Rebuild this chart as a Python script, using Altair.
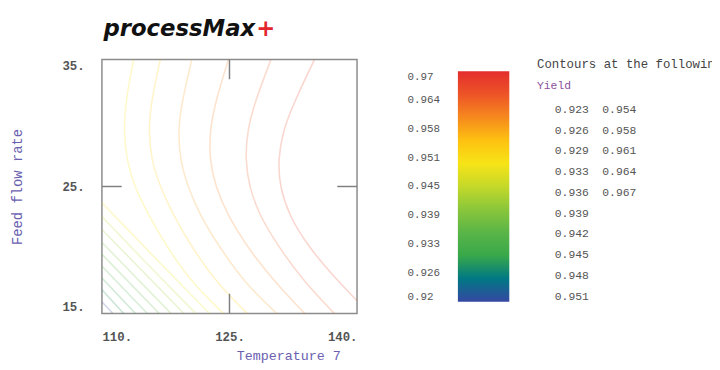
import altair as alt
import pandas as pd

# ---------------- data ----------------
# contour levels listed at the right
levels = [0.923, 0.926, 0.929, 0.933, 0.936, 0.939, 0.942, 0.945, 0.948, 0.951,
          0.954, 0.958, 0.961, 0.964, 0.967]

# contour polylines (Temperature, Feed flow rate)
c967_x = [135.00, 132.67, 131.28, 130.70, 130.93, 131.98, 134.07, 136.98, 140.0]
c967_y = [35.0, 31.73, 29.40, 27.06, 24.96, 22.78, 20.45, 18.11, 16.01]
c964_x = [129.88, 128.02, 127.09, 126.86, 127.33, 128.49, 130.58, 133.49, 137.33]
c964_y = [35.0, 31.73, 29.40, 27.06, 24.96, 22.78, 20.45, 17.72, 15.0]
c961_x = [124.88, 123.37, 122.67, 122.67, 123.37, 124.77, 126.86, 130.00, 133.84]
c961_y = [35.0, 31.73, 29.40, 27.06, 24.96, 22.78, 20.45, 17.72, 15.0]
c958_x = [120.58, 119.42, 118.95, 119.19, 120.12, 121.51, 123.60, 126.86, 130.58]
c958_y = [35.0, 31.73, 29.40, 27.06, 24.96, 22.78, 20.45, 17.33, 15.0]
c954_x = [116.86, 115.81, 115.47, 115.81, 116.86, 118.37, 120.70, 123.60, 127.09]
c954_y = [35.0, 31.73, 29.40, 27.06, 24.96, 22.78, 20.06, 17.33, 15.0]
c951_x = [113.72, 112.79, 112.56, 112.91, 113.84, 115.47, 117.79, 120.70, 124.30]
c951_y = [35.0, 31.73, 29.40, 27.06, 24.96, 22.78, 20.06, 17.33, 15.0]
c948_x = [110.0, 115.70, 122.67]
c948_y = [23.72, 19.75, 15.0]
c945_x = [110.0, 115.00, 121.05]
c945_y = [22.63, 19.12, 15.0]
c942_x = [110.0, 114.42, 119.65]
c942_y = [21.61, 18.58, 15.0]
c939_x = [110.0, 113.72, 118.14]
c939_y = [20.60, 18.04, 15.0]
c936_x = [110.0, 113.14, 116.74]
c936_y = [19.67, 17.49, 15.0]
c933_x = [110.0, 112.44, 115.35]
c933_y = [18.74, 17.02, 15.0]
c929_x = [110.0, 113.95]
c929_y = [17.80, 15.0]
c926_x = [110.0, 112.56]
c926_y = [16.87, 15.0]
c923_x = [110.0, 111.28]
c923_y = [15.93, 15.0]

curves = [
    (0.967, c967_x, c967_y), (0.964, c964_x, c964_y), (0.961, c961_x, c961_y),
    (0.958, c958_x, c958_y), (0.954, c954_x, c954_y), (0.951, c951_x, c951_y),
    (0.948, c948_x, c948_y), (0.945, c945_x, c945_y), (0.942, c942_x, c942_y),
    (0.939, c939_x, c939_y), (0.936, c936_x, c936_y), (0.933, c933_x, c933_y),
    (0.929, c929_x, c929_y), (0.926, c926_x, c926_y), (0.923, c923_x, c923_y),
]

x_ticks = [110, 125, 140]
y_ticks = [15, 25, 35]
inner_x_ticks = [125]
inner_y_ticks = [25]

colorbar_ticks = [0.92, 0.92625, 0.9325, 0.93875, 0.945, 0.95125, 0.9575, 0.96375, 0.97]
color_domain = [0.92, 0.9238, 0.9258, 0.93, 0.936, 0.942, 0.9485, 0.952, 0.958, 0.964, 0.97]
color_range = ["#3547a3", "#2f4fa0", "#18844a", "#38a84a", "#5fb846", "#a0cd36",
               "#f2e41a", "#fde412", "#f79e1e", "#ef5b26", "#e42d2d"]

title_main = "processMax"
title_plus = "+"
legend_header = "Contours at the following levels"
legend_var = "Yield"

# ---------------- build tables ----------------
rows = []
for lev, xs, ys in curves:
    for i, (a, b) in enumerate(zip(xs, ys)):
        rows.append({"level": lev, "temp": a, "feed": b, "ord": i})
contours = pd.DataFrame(rows)

lev_table = pd.DataFrame({
    "label": [f"{v:.3f}" for v in levels],
    "col": [i // 10 for i in range(len(levels))],
    "row": [i % 10 for i in range(len(levels))],
})

mono = "Liberation Mono"
W, H = 258, 257

xscale = alt.Scale(domain=[110, 140], nice=False, zero=False)
yscale = alt.Scale(domain=[15, 35], nice=False, zero=False)

fmt = "format(datum.value + 0.00001, '.3~f')"
lines = alt.Chart(contours).mark_line(
    interpolate="basis", strokeWidth=1.6, strokeOpacity=0.22, clip=True
).encode(
    x=alt.X("temp:Q", scale=xscale, axis=alt.Axis(
        values=x_ticks, labelExpr="datum.value + '.'", ticks=False, domain=False,
        grid=False, labelFlush=True, labelPadding=17, labelFont=mono,
        labelFontSize=12.5, labelFontWeight="bold", labelColor="#555555",
        title="Temperature 7", titleFont=mono, titleFontSize=13.5,
        titleFontWeight="normal", titleColor="#6a60b0", titleX=241, titleY=46,
        titleAlign="right", titleBaseline="alphabetic")),
    y=alt.Y("feed:Q", scale=yscale, axis=alt.Axis(
        values=y_ticks, labelExpr="datum.value + '.'", ticks=False, domain=False,
        grid=False, labelFlush=True, labelPadding=18, labelFont=mono,
        labelFontSize=12.5, labelFontWeight="bold", labelColor="#555555",
        title="Feed flow rate", titleFont=mono, titleFontSize=14,
        titleFontWeight="normal", titleColor="#6a60b0", titleX=-85, titleY=128.5,
        titleAngle=270, titleAlign="center", titleBaseline="middle")),
    stroke=alt.Stroke("level:Q", scale=alt.Scale(domain=color_domain, range=color_range),
                      legend=alt.Legend(
                          orient="none", legendX=360, legendY=12, direction="vertical",
                          gradientLength=233, gradientThickness=52, title=None,
                          values=colorbar_ticks,
                          labelExpr=fmt,
                          labelOffset={"expr": "-103"},
                          labelFont=mono, labelFontSize=11, labelColor="#555555",
                          gradientStrokeWidth=0, labelOverlap=False)),
    detail="level:N",
    order="ord:Q",
)

tx = pd.DataFrame({"v": inner_x_ticks})
ty = pd.DataFrame({"v": inner_y_ticks})
tick_style = dict(color="#808080", strokeWidth=1.5)
tick_top = alt.Chart(tx).mark_rule(**tick_style).encode(
    x=alt.X("v:Q", scale=xscale, axis=None), y=alt.value(0), y2=alt.value(20))
tick_bot = alt.Chart(tx).mark_rule(**tick_style).encode(
    x=alt.X("v:Q", scale=xscale, axis=None), y=alt.value(H - 20), y2=alt.value(H))
tick_left = alt.Chart(ty).mark_rule(**tick_style).encode(
    y=alt.Y("v:Q", scale=yscale, axis=None), x=alt.value(0), x2=alt.value(20))
tick_right = alt.Chart(ty).mark_rule(**tick_style).encode(
    y=alt.Y("v:Q", scale=yscale, axis=None), x=alt.value(W - 20), x2=alt.value(W))

lev_text = alt.Chart(lev_table).mark_text(
    align="left", baseline="middle", font=mono, fontSize=11.5, color="#555555"
).encode(
    x=alt.X("col:O", scale=alt.Scale(type="point", domain=[0, 1], range=[458, 506], padding=0), axis=None),
    y=alt.Y("row:O", scale=alt.Scale(type="point", domain=list(range(10)), range=[51, 240], padding=0), axis=None),
    text="label:N",
)

hdr = alt.Chart(pd.DataFrame({"t": [legend_header]})).mark_text(
    align="left", baseline="middle", font=mono, fontSize=12.5, color="#444444"
).encode(text="t:N", x=alt.value(440), y=alt.value(5))
var = alt.Chart(pd.DataFrame({"t": [legend_var]})).mark_text(
    align="left", baseline="middle", font=mono, fontSize=11.5, color="#8a4f9c"
).encode(text="t:N", x=alt.value(440), y=alt.value(27))

t1 = alt.Chart(pd.DataFrame({"t": [title_main]})).mark_text(
    align="right", baseline="alphabetic", font="DejaVu Sans", fontSize=23,
    fontWeight="bold", fontStyle="italic", color="#111111"
).encode(text="t:N", x=alt.value(155), y=alt.value(-24))
t2 = alt.Chart(pd.DataFrame({"t": [title_plus]})).mark_text(
    align="left", baseline="alphabetic", font="DejaVu Sans", fontSize=23,
    fontWeight="bold", fontStyle="italic", color="#e3262d"
).encode(text="t:N", x=alt.value(156), y=alt.value(-24))

chart = alt.layer(
    lines, tick_top, tick_bot, tick_left, tick_right, lev_text, hdr, var, t1, t2
).resolve_scale(x="independent", y="independent").properties(
    width=W, height=H,
    autosize=alt.AutoSizeParams(type="none"),
    padding={"left": 95, "top": 50, "right": 359, "bottom": 49},
).configure_view(stroke="#8c8c8c", strokeWidth=1.5)

chart.save("out.html", embed_options={"renderer": "svg", "actions": False})
